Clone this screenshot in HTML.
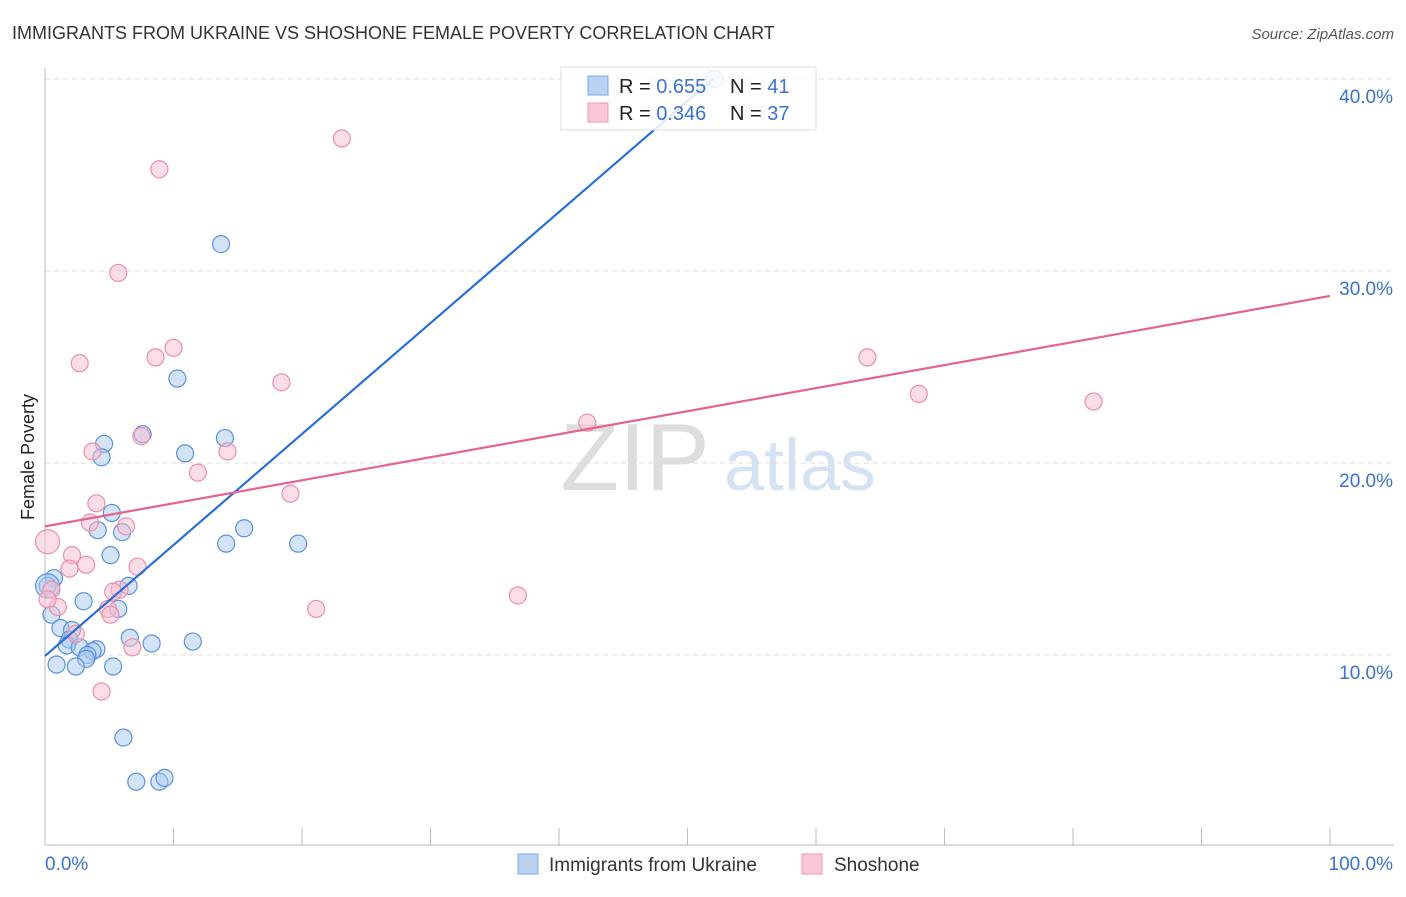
<!DOCTYPE html>
<html><head><meta charset="utf-8"><style>
body{margin:0;background:#fff;font-family:"Liberation Sans",sans-serif;}
svg text{font-family:"Liberation Sans",sans-serif;}
</style></head><body>
<svg id="chart" width="1406" height="892" xmlns="http://www.w3.org/2000/svg">
<text x="12" y="39" font-size="18" fill="#333">IMMIGRANTS FROM UKRAINE VS SHOSHONE FEMALE POVERTY CORRELATION CHART</text>
<text x="1394" y="39" font-size="15" fill="#555" text-anchor="end" font-style="italic">Source: ZipAtlas.com</text>
<text x="34" y="457" font-size="18" fill="#222" transform="rotate(-90 34 457)" text-anchor="middle">Female Poverty</text>
<g><text x="635" y="490" font-size="96" fill="#ddd" text-anchor="middle" font-family="Liberation Serif">ZIP</text><text x="800" y="490" font-size="72" fill="#d4e2f4" text-anchor="middle">atlas</text></g>
<g id="grid"></g><g id="axes"></g><g id="pts"></g><g id="lines"></g>
<g>
<rect x="561" y="67" width="255" height="63" fill="#fff" fill-opacity="0.85" stroke="#ddd"/>
<rect x="588" y="76" width="20" height="19" fill="#b8d3f3" stroke="#7aaae6"/>
<rect x="588" y="103" width="20" height="19" fill="#f9c8d6" stroke="#ee9ab3"/>
<text x="619" y="93" font-size="20" fill="#222">R = <tspan fill="#3b72d0">0.655</tspan></text>
<text x="730" y="93" font-size="20" fill="#222">N = <tspan fill="#3b72d0"> 41</tspan></text>
<text x="619" y="120" font-size="20" fill="#222">R = <tspan fill="#3b72d0">0.346</tspan></text>
<text x="730" y="120" font-size="20" fill="#222">N = <tspan fill="#3b72d0">37</tspan></text>
</g>
<g>
<rect x="518" y="854" width="20" height="20" fill="#b8d3f3" stroke="#7aaae6"/>
<text x="549" y="871" font-size="19" fill="#333">Immigrants from Ukraine</text>
<rect x="802" y="854" width="20" height="20" fill="#f9c8d6" stroke="#ee9ab3"/>
<text x="834" y="871" font-size="19" fill="#333">Shoshone</text>
</g>
</svg>
<script>
const yTicks=[10,20,30,40];
const yTickLabels=["10.0%","20.0%","30.0%","40.0%"];
const xTicks=[0,10,20,30,40,50,60,70,80,90,100];
const blueX=[13.7,10.3,7.6,14.0,4.6,4.4,10.9,5.2,4.1,6.0,15.5,14.1,19.7,5.1,0.7,0.2,6.5,3.0,5.7,0.5,1.2,2.1,1.9,1.7,2.7,4.0,3.7,3.3,3.2,6.6,8.3,11.5,0.9,2.4,5.3,6.1,7.1,8.9,9.3,52.1,0.2];
const blueY=[31.4,24.4,21.5,21.3,21.0,20.3,20.5,17.4,16.5,16.4,16.6,15.8,15.8,15.2,14.0,13.6,13.6,12.8,12.4,12.1,11.4,11.3,10.8,10.5,10.4,10.3,10.2,10.0,9.8,10.9,10.6,10.7,9.5,9.4,9.4,5.7,3.4,3.4,3.6,40.0,13.6];
const pinkX=[23.1,8.9,5.7,10.0,8.6,2.7,18.4,7.5,3.7,14.2,11.9,19.1,4.0,3.5,6.3,0.2,2.1,3.2,1.9,7.2,5.8,5.3,0.5,1.0,4.9,5.1,2.4,6.8,21.1,4.4,36.8,42.2,64.0,68.0,81.6,0.2];
const pinkY=[36.9,35.3,29.9,26.0,25.5,25.2,24.2,21.4,20.6,20.6,19.5,18.4,17.9,16.9,16.7,15.9,15.2,14.7,14.5,14.6,13.4,13.3,13.4,12.5,12.4,12.1,11.1,10.4,12.4,8.1,13.1,22.1,25.5,23.6,23.2,12.9];
const blueLine=[9.95,0.578];
const pinkLine=[16.7,0.12];
const NS="http://www.w3.org/2000/svg";
const xs=v=>45+v*12.85, ys=v=>655-(v-10)*19.2;
function mk(p,t,a){const e=document.createElementNS(NS,t);for(const k in a)e.setAttribute(k,a[k]);document.getElementById(p).appendChild(e);return e;}
yTicks.forEach((t,i)=>{
 const l=mk('grid','line',{x1:45,x2:1394,y1:ys(t),y2:ys(t),stroke:'#ddd','stroke-dasharray':'5,4'});
 
 
 const tx=mk('grid','text',{x:1393,y:ys(t)+24,'font-size':19,fill:'#3b72d0','text-anchor':'end'});
 tx.textContent=yTickLabels[i];
 
 
});
mk('axes','line',{x1:45,x2:45,y1:68,y2:845,stroke:'#bbb'});
mk('axes','line',{x1:45,x2:1394,y1:845,y2:845,stroke:'#bbb'});
xTicks.forEach(t=>{const l=mk('axes','line',{x1:xs(t),x2:xs(t),y1:828,y2:845,stroke:'#bbb'});
 
 });
const a0=mk('axes','text',{x:45,y:870,'font-size':19,fill:'#3b72d0'});a0.textContent='0.0%';


const a1=mk('axes','text',{x:1393,y:870,'font-size':19,fill:'#3b72d0','text-anchor':'end'});a1.textContent='100.0%';


blueX.forEach((x,i)=>{const c=mk('pts','circle',{cx:xs(x),cy:ys(blueY[i]),r:(i==40?12:8.5),fill:'#a9c9f0','fill-opacity':0.5,stroke:'#5b92dd','stroke-width':1.2});
 
 });
pinkX.forEach((x,i)=>{const c=mk('pts','circle',{cx:xs(x),cy:ys(pinkY[i]),r:(i==15?12:8.5),fill:'#f7bccd','fill-opacity':0.5,stroke:'#eb8fac','stroke-width':1.2});
 
 });
const bl=mk('lines','line',{x1:xs(0),y1:ys(blueLine[0]),x2:xs(52),y2:ys(blueLine[0]+52*blueLine[1]),stroke:'#2a6fd6','stroke-width':2.2});


const pl=mk('lines','line',{x1:xs(0),y1:ys(pinkLine[0]),x2:xs(100),y2:ys(pinkLine[0]+100*pinkLine[1]),stroke:'#e4638f','stroke-width':2.2});


</script>
</body></html>
